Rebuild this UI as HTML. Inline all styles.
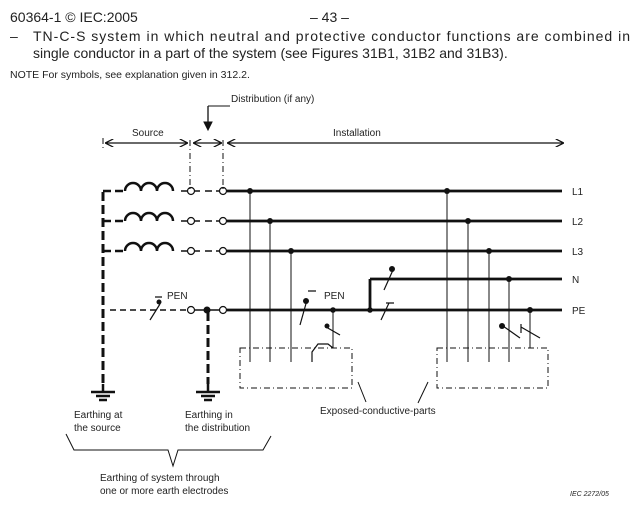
<!DOCTYPE html>
<html><head><style>
body{margin:0;background:#fff;}
svg text{font-family:"Liberation Sans",sans-serif;fill:#222;}
</style></head><body>
<svg width="640" height="501" viewBox="0 0 640 501" xmlns="http://www.w3.org/2000/svg">
<defs>
<marker id="a" viewBox="0 0 10 10" refX="9" refY="5" markerWidth="7" markerHeight="7" orient="auto-start-reverse"><path d="M0,0 L10,5 L0,10" fill="none" stroke="#111" stroke-width="1.5"/></marker>
</defs>
<text x="10" y="22" font-size="14">60364-1 © IEC:2005</text>
<text x="310" y="22" font-size="14">– 43 –</text>
<text x="10" y="41" font-size="14">–</text>
<text x="33" y="41" font-size="14" textLength="597" lengthAdjust="spacing">TN-C-S system in which neutral and protective conductor functions are combined in</text>
<text x="33" y="58" font-size="14">single conductor in a part of the system (see Figures 31B1, 31B2 and 31B3).</text>
<text x="10" y="78" font-size="10.5">NOTE  For symbols, see explanation given in 312.2.</text>

<g stroke="#111" fill="none">
<!-- top dims -->
<path d="M208,106 V126" stroke-width="1.3"/><path d="M204,122 L208,130 L212,122Z" fill="#111"/>
<path d="M208,106 H230" stroke-width="1"/>
<path d="M103,138 V150 M190,140 V190 M223,140 V190" stroke-width="1" stroke-dasharray="6,3,1,3"/>
<path d="M106,143 H187" stroke-width="1.2" marker-start="url(#a)" marker-end="url(#a)"/>
<path d="M194,143 H221" stroke-width="1.2" marker-start="url(#a)" marker-end="url(#a)"/>
<path d="M228,143 H563" stroke-width="1.2" marker-start="url(#a)" marker-end="url(#a)"/>
<!-- left dashed vertical -->
<path d="M103,192 V384" stroke-width="3" stroke-dasharray="9,4"/>
<path d="M103,191 H111 M103,221 H111 M103,251 H111" stroke-width="2.5"/>
<path d="M115,191 H123 M115,221 H123 M115,251 H123" stroke-width="2.5"/>
<!-- coils -->
<g stroke-width="2.5">
<path d="M125,191 a8,8 0 0 1 16,0 a8,8 0 0 1 16,0 a8,8 0 0 1 16,0"/>
<path d="M125,221 a8,8 0 0 1 16,0 a8,8 0 0 1 16,0 a8,8 0 0 1 16,0"/>
<path d="M125,251 a8,8 0 0 1 16,0 a8,8 0 0 1 16,0 a8,8 0 0 1 16,0"/>
</g>
<path d="M181,191 H187 M181,221 H187 M181,251 H187 M195,191 H200 M205,191 H212 M195,221 H200 M205,221 H212 M195,251 H200 M205,251 H212" stroke-width="1.5"/>
<circle cx="191" cy="191" r="3.5" stroke-width="1.2"/><circle cx="223" cy="191" r="3.5" stroke-width="1.2"/>
<circle cx="191" cy="221" r="3.5" stroke-width="1.2"/><circle cx="223" cy="221" r="3.5" stroke-width="1.2"/>
<circle cx="191" cy="251" r="3.5" stroke-width="1.2"/><circle cx="223" cy="251" r="3.5" stroke-width="1.2"/>
<path d="M216,191 H219 M216,221 H219 M216,251 H219" stroke-width="1.5"/>
<!-- PEN source dashed -->
<path d="M110,310 H187" stroke-width="1.5" stroke-dasharray="6,4"/>
<circle cx="191" cy="310" r="3.5" stroke-width="1.2"/><circle cx="223" cy="310" r="3.5" stroke-width="1.2"/>
<path d="M195,310 H219" stroke-width="1.5"/>
<path d="M150,320 L160,304 M155,297 H162" stroke-width="1.2"/>
<path d="M208,312 V384" stroke-width="3" stroke-dasharray="9,4"/>
<!-- main lines -->
<path d="M227,191 H562 M227,221 H562 M227,251 H562 M227,310 H562 M370,279 H562 M370,279 V310" stroke-width="2.8"/>
<!-- verticals -->
<path d="M250,191 V362 M270,221 V362 M291,251 V362 M447,191 V362 M468,221 V362 M489,251 V362 M509,279 V362 M530,310 V348 M333,310 V348" stroke-width="1"/>
<!-- switches -->
<path d="M300,325 L307,300 M308,291 H316" stroke-width="1.2"/>
<path d="M312,362 V352 L318,344 H328 L333,348" stroke-width="1.2"/>
<path d="M326,327 L340,335" stroke-width="1.2"/>
<path d="M384,290 L393,270" stroke-width="1.2"/>
<path d="M381,320 L389,303 M386,303 H394" stroke-width="1.2"/>
<path d="M503,326 L520,338 M521,327 L540,338 M521,324 V333" stroke-width="1.2"/>
<!-- boxes -->
<rect x="240" y="348" width="112" height="40" stroke-width="1" stroke-dasharray="6,3,1,3"/>
<rect x="437" y="348" width="111" height="40" stroke-width="1" stroke-dasharray="6,3,1,3"/>
<path d="M358,382 L366,402 M428,382 L418,403" stroke-width="1"/>
<!-- grounds -->
<path d="M103,384 V392 M91,392 H115 M96,396 H110 M99,400 H107" stroke-width="2.5"/>
<path d="M208,384 V392 M196,392 H220 M201,396 H215 M204,400 H212" stroke-width="2.5"/>
<!-- bracket -->
<path d="M66,434 L74,450 H168 L173,466 L178,450 H263 L271,436" stroke-width="1"/>
</g>
<g fill="#111">
<circle cx="207" cy="310" r="3.5"/><circle cx="250" cy="191" r="3"/><circle cx="270" cy="221" r="3"/><circle cx="291" cy="251" r="3"/>
<circle cx="333" cy="310" r="2.8"/><circle cx="370" cy="310" r="2.8"/><circle cx="447" cy="191" r="3"/><circle cx="468" cy="221" r="3"/><circle cx="489" cy="251" r="3"/><circle cx="509" cy="279" r="3"/><circle cx="530" cy="310" r="3"/>
<circle cx="159" cy="302" r="2.5"/><circle cx="306" cy="301" r="3"/><circle cx="327" cy="326" r="2.5"/><circle cx="392" cy="269" r="3"/><circle cx="502" cy="326" r="3"/>
</g>
<text x="231" y="102" font-size="10">Distribution (if any)</text>
<text x="132" y="136" font-size="10">Source</text>
<text x="333" y="136" font-size="10">Installation</text>
<text x="572" y="195" font-size="10">L1</text>
<text x="572" y="225" font-size="10">L2</text>
<text x="572" y="255" font-size="10">L3</text>
<text x="572" y="283" font-size="10">N</text>
<text x="572" y="314" font-size="10">PE</text>
<text x="167" y="299" font-size="10">PEN</text>
<text x="324" y="299" font-size="10">PEN</text>
<text x="74" y="418" font-size="10">Earthing at</text>
<text x="74" y="431" font-size="10">the source</text>
<text x="185" y="418" font-size="10">Earthing in</text>
<text x="185" y="431" font-size="10">the distribution</text>
<text x="320" y="414" font-size="10">Exposed-conductive-parts</text>
<text x="100" y="481" font-size="10">Earthing of system through</text>
<text x="100" y="494" font-size="10">one or more earth electrodes</text>
<text x="570" y="496" font-size="7" font-style="italic">IEC   2272/05</text>
</svg>
</body></html>
